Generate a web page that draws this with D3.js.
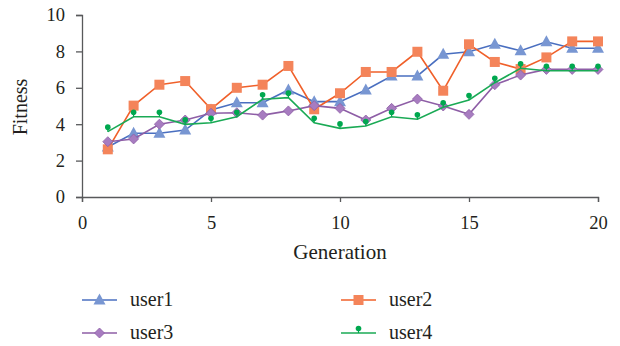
<!DOCTYPE html>
<html>
<head>
<meta charset="utf-8">
<script src="https://cdn.jsdelivr.net/npm/d3@7"></script>
</head>
<body style="margin:0;padding:0;background:#fff">
<svg id="chart" width="620" height="346" style="display:block"></svg>
<script>
// Fitness per generation for four users
const generations = d3.range(1, 21);
const user1 = [2.75, 3.5, 3.5, 3.68, 4.78, 5.18, 5.18, 5.88, 5.24, 5.24, 5.88, 6.65, 6.65, 7.84, 7.98, 8.39, 8.04, 8.53, 8.17, 8.17];
const user2 = [2.62, 5.02, 6.17, 6.37, 4.83, 6.0, 6.17, 7.2, 4.82, 5.7, 6.87, 6.87, 7.98, 5.84, 8.39, 7.42, 7.03, 7.67, 8.55, 8.55];
const user3 = [3.04, 3.19, 4.0, 4.23, 4.6, 4.63, 4.5, 4.73, 5.02, 4.87, 4.23, 4.87, 5.38, 5.0, 4.54, 6.17, 6.7, 7.01, 7.01, 7.01];
const user4 = [3.59, 4.41, 4.41, 3.99, 4.08, 4.41, 5.37, 5.46, 4.08, 3.77, 3.9, 4.41, 4.27, 4.93, 5.33, 6.28, 7.07, 6.94, 6.94, 6.94];
const xTicks = [0, 5, 10, 15, 20];
const yTicks = [0, 2, 4, 6, 8, 10];

const series = [
  { name: "user1", values: user1, line: "#4a6fc0", fill: "#7896d2", marker: "triangle" },
  { name: "user2", values: user2, line: "#f0602a", fill: "#f4845a", marker: "square" },
  { name: "user3", values: user3, line: "#8e5ea6", fill: "#a77cc0", marker: "diamond" },
  { name: "user4", values: user4, line: "#1aaa55", fill: "#00a84f", marker: "pin" }
];

const FONT = '"Liberation Serif", "Times New Roman", serif';
const INK = "#231f20";
const svg = d3.select("#chart");
const x = d3.scaleLinear().domain([0, 20]).range([82, 598]);
const y = d3.scaleLinear().domain([0, 10]).range([197, 15]);
const axisColor = "#58595b";

// Axes
const gx = svg.append("g").attr("transform", `translate(0,${y(0)})`)
  .call(d3.axisBottom(x).tickValues(xTicks).tickSize(5).tickPadding(14));
const gy = svg.append("g").attr("transform", `translate(${x(0)},0)`)
  .call(d3.axisLeft(y).tickValues(yTicks).tickSize(6).tickPadding(11));
[gx, gy].forEach(g => {
  g.select(".domain").attr("stroke", axisColor).attr("stroke-width", 1.3);
  g.selectAll(".tick line").attr("stroke", axisColor).attr("stroke-width", 1.3);
  g.selectAll(".tick text").style("font-family", FONT)
    .style("font-size", "18.5px").style("fill", INK);
});

svg.append("text").attr("x", 340).attr("y", 259).attr("text-anchor", "middle")
  .style("font-family", FONT).style("font-size", "21px").style("fill", INK).text("Generation");
svg.append("text").attr("transform", `translate(27,107) rotate(-90)`)
  .attr("text-anchor", "middle").style("font-family", FONT).style("font-size", "20px")
  .style("fill", INK).text("Fitness");

// Marker shapes
function drawMarker(g, type, cx, cy, fill) {
  if (type === "triangle") {
    g.append("path").attr("d", `M${cx},${cy - 6.5}L${cx + 6},${cy + 4.5}L${cx - 6},${cy + 4.5}Z`).attr("fill", fill);
  } else if (type === "square") {
    g.append("rect").attr("x", cx - 5).attr("y", cy - 5).attr("width", 10).attr("height", 10).attr("fill", fill);
  } else if (type === "diamond") {
    g.append("path").attr("d", `M${cx},${cy - 5}L${cx + 5},${cy}L${cx},${cy + 5}L${cx - 5},${cy}Z`)
      .attr("fill", fill).attr("stroke", "#8e5ea6").attr("stroke-width", 0.8);
  } else if (type === "pin") {
    g.append("line").attr("x1", cx).attr("x2", cx).attr("y1", cy - 4).attr("y2", cy).attr("stroke", fill).attr("stroke-width", 1.2);
    g.append("circle").attr("cx", cx).attr("cy", cy - 4.5).attr("r", 2.8).attr("fill", fill);
  }
}

const line = d3.line().x((d, i) => x(generations[i])).y(d => y(d));

series.forEach(s => {
  const g = svg.append("g");
  g.append("path").datum(s.values).attr("d", line).attr("fill", "none")
    .attr("stroke", s.line).attr("stroke-width", 1.6);
  s.values.forEach((v, i) => drawMarker(g, s.marker, x(generations[i]), y(v), s.fill));
});

// Legend
const legendPos = [
  { lx: 82, ty: 300 }, { lx: 341, ty: 300 },
  { lx: 82, ty: 333 }, { lx: 341, ty: 333 }
];
series.forEach((s, i) => {
  const p = legendPos[i];
  const g = svg.append("g");
  g.append("line").attr("x1", p.lx).attr("x2", p.lx + 35).attr("y1", p.ty).attr("y2", p.ty)
    .attr("stroke", s.line).attr("stroke-width", 1.6);
  drawMarker(g, s.marker, p.lx + 17.5, p.ty, s.fill);
  g.append("text").attr("x", p.lx + 48).attr("y", p.ty + 6)
    .style("font-family", FONT).style("font-size", "20px").style("fill", INK).text(s.name);
});
</script>
</body>
</html>
